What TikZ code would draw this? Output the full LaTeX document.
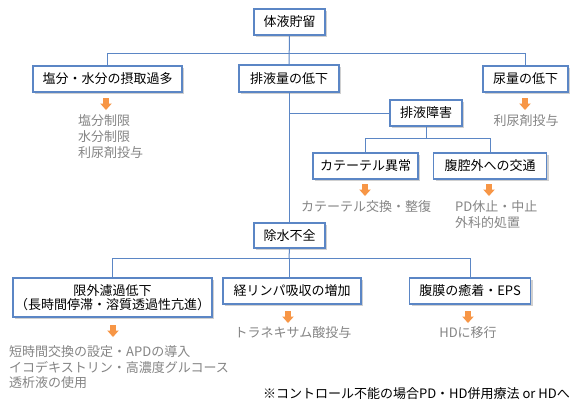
\documentclass[tikz,border=0pt]{standalone}
\usepackage{fontspec}
\setmainfont{Noto Sans CJK JP}
\usetikzlibrary{shadows}
\definecolor{boxblue}{HTML}{5B86C5}
\definecolor{arrorange}{HTML}{F79646}
\definecolor{txtgray}{HTML}{858585}
\begin{document}
\begin{tikzpicture}[x=1pt,y=-1pt,
  box/.style={draw=boxblue, line width=1.1pt, fill=white, inner sep=0pt,
    minimum height=26pt, font=\fontsize{13pt}{14pt}\selectfont, text=black,
    drop shadow={shadow xshift=2pt, shadow yshift=-2pt, opacity=0.3, fill=black!60}},
  conn/.style={draw=boxblue, line width=1pt},
  gtext/.style={inner sep=0pt, text=txtgray, font=\fontsize{13pt}{16pt}\selectfont, align=left},
  oarrow/.pic={\fill[arrorange] (-2.8,0) -- (2.8,0) -- (2.8,5.5) -- (5.8,5.5) -- (0,12) -- (-5.8,5.5) -- (-2.8,5.5) -- cycle;}
]
\useasboundingbox (0,0) rectangle (580,405);
\fill[white] (0,0) rectangle (580,405);

% boxes
\node[box, minimum width=71pt] (top) at (289.5,22) {体液貯留};
\node[box, minimum width=149pt] (salt) at (107.5,79) {塩分・水分の摂取過多};
\node[box, minimum width=100pt, minimum height=27pt] (drain) at (289,78.5) {排液量の低下};
\node[box, minimum width=85pt] (urine) at (525.5,79) {尿量の低下};
\node[box, minimum width=72pt] (haieki) at (426,113) {排液障害};
\node[box, minimum width=105pt] (cath) at (365.5,166) {カテーテル異常};
\node[box, minimum width=113pt] (leak) at (490,166) {腹腔外への交通};
\node[box, minimum width=71pt, minimum height=25pt] (josui) at (289.5,235.5) {除水不全};
\node[box, minimum width=199pt, minimum height=39pt, align=center] (uf) at (112.5,297.5) {限外濾過低下\\（長時間停滞・溶質透過性亢進）};
\node[box, minimum width=138pt] (lymph) at (292,291) {経リンパ吸収の増加};
\node[box, minimum width=121pt] (adh) at (470,291) {腹膜の癒着・EPS};

% junctions
\coordinate (j1) at (289,53);
\coordinate (j2) at (426,138);
\coordinate (j3) at (289,258);

% connectors
\draw[conn] (top.south) -- (drain.north);
\draw[conn] (salt.north) |- (j1);
\draw[conn] (urine.north) |- (j1);
\draw[conn] (drain.south) -- (drain.south |- josui.north);
\draw[conn] (haieki.west) -- (haieki.west -| drain.south);
\draw[conn] (haieki.south) -- (j2);
\draw[conn] (cath.north) |- (j2);
\draw[conn] (leak.north) |- (j2);
\draw[conn] (josui.south) -- (j3);
\draw[conn] (uf.north) |- (j3);
\draw[conn] (adh.north) |- (j3);
\draw[conn] (j3) -- (j3 |- lymph.north);

% orange arrows
\pic at (106,98) {oarrow};
\pic at (525,98) {oarrow};
\pic at (365,184) {oarrow};
\pic at (489,184) {oarrow};
\pic at (113,325) {oarrow};
\pic at (288,311) {oarrow};
\pic at (468,311) {oarrow};

% gray texts
\node[gtext, anchor=west] (t1) at (78,137) {塩分制限\\水分制限\\利尿剤投与};
\node[gtext] (t2) at (526,121) {利尿剤投与};
\node[gtext] (t3) at (366,207) {カテーテル交換・整復};
\node[gtext, anchor=west] (t4) at (455,215) {PD休止・中止\\外科的処置};
\node[gtext, anchor=west, font=\fontsize{13pt}{15.5pt}\selectfont] (t5) at (9,367.5) {短時間交換の設定・APDの導入\\イコデキストリン・高濃度グルコース\\透析液の使用};
\node[gtext] (t6) at (293,333) {トラネキサム酸投与};
\node[gtext] (t7) at (468,333) {HDに移行};

% note
\node[inner sep=0pt, anchor=east, font=\fontsize{13pt}{16pt}\selectfont] (note) at (570,394) {※コントロール不能の場合PD・HD併用療法 or HDへ};
\end{tikzpicture}
\end{document}
